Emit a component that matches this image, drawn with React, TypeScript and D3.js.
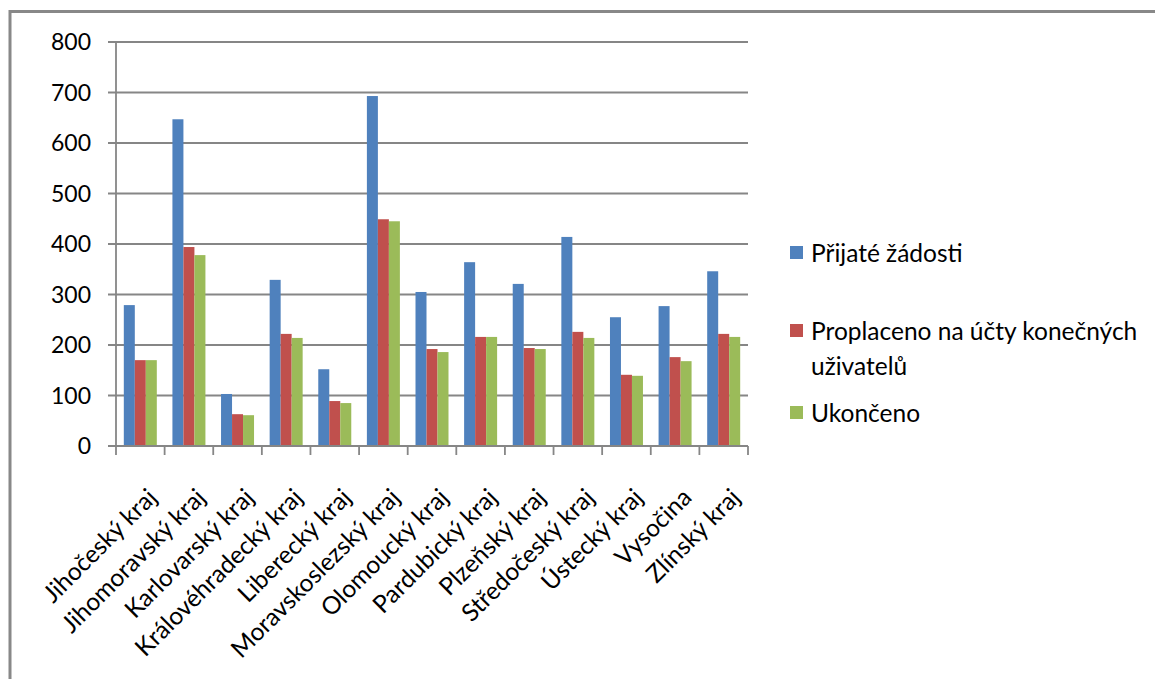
import { useMemo } from "react";
import * as d3 from "d3";

// Bar chart of regional counts: received / paid / closed requests per kraj.

const REGIONS = [
  "Jihočeský kraj",
  "Jihomoravský kraj",
  "Karlovarský kraj",
  "Královéhradecký kraj",
  "Liberecký kraj",
  "Moravskoslezský kraj",
  "Olomoucký kraj",
  "Pardubický kraj",
  "Plzeňský kraj",
  "Středočeský kraj",
  "Ústecký kraj",
  "Vysočina",
  "Zlínský kraj",
];

const PRIJATE = [279, 647, 103, 329, 152, 693, 305, 364, 321, 414, 255, 277, 346];
const PROPLACENO = [170, 394, 63, 222, 89, 449, 192, 216, 194, 226, 141, 176, 222];
const UKONCENO = [170, 378, 61, 214, 85, 445, 186, 216, 192, 214, 139, 168, 216];

const SERIES = [
  { name: "Přijaté žádosti", values: PRIJATE, color: "#4F81BD" },
  { name: "Proplaceno na účty konečných uživatelů", values: PROPLACENO, color: "#C0504D" },
  { name: "Ukončeno", values: UKONCENO, color: "#9BBB59" },
];

const Y_TICKS = [0, 100, 200, 300, 400, 500, 600, 700, 800];

const W = 1155;
const H = 679;
const FONT = "Lato, 'Open Sans', sans-serif";
const GRID = "#868686";

export default function App() {
  const x0 = 116;
  const x1 = 748;
  const yTop = 42;
  const yBot = 446;

  const x = useMemo(() => d3.scaleBand<string>().domain(REGIONS).range([x0, x1]).padding(0), []);
  const inner = useMemo(
    () =>
      d3
        .scaleBand<string>()
        .domain(SERIES.map((s) => s.name))
        .range([0, x.bandwidth()])
        .paddingInner(0)
        .paddingOuter(0.71),
    [x]
  );
  const y = useMemo(() => d3.scaleLinear().domain([0, 800]).range([yBot, yTop]), []);

  const boundaries = [...REGIONS.map((r) => x(r)!), x1];

  return (
    <svg
      width={W}
      height={H}
      viewBox={`0 0 ${W} ${H}`}
      style={{ position: "absolute", left: 0, top: 0, background: "#fff" }}
    >
      {/* outer chart frame, cut off at the right and bottom like the original */}
      <rect x={10} y={11.5} width={W + 20} height={H + 20} fill="#fff" stroke="#888" strokeWidth={3} />

      {/* gridlines + y labels */}
      {Y_TICKS.map((t) => (
        <g key={t}>
          <line x1={108} x2={x1} y1={y(t)} y2={y(t)} stroke={GRID} strokeWidth={1.8} />
          <text
            x={91}
            y={y(t)}
            dy="0.36em"
            textAnchor="end"
            fontFamily={FONT}
            fontSize={23}
            fill="#000"
          >
            {t}
          </text>
        </g>
      ))}

      {/* bars */}
      {REGIONS.map((r, i) => (
        <g key={r} transform={`translate(${x(r)},0)`}>
          {SERIES.map((s) => (
            <rect
              key={s.name}
              x={inner(s.name)}
              y={y(s.values[i])}
              width={inner.bandwidth()}
              height={yBot - y(s.values[i])}
              fill={s.color}
            />
          ))}
        </g>
      ))}

      {/* axes */}
      <line x1={x0} x2={x0} y1={yTop} y2={yBot} stroke={GRID} strokeWidth={1.8} />
      <line x1={x0} x2={x1} y1={yBot} y2={yBot} stroke={GRID} strokeWidth={1.8} />
      {boundaries.map((bx, i) => (
        <line key={i} x1={bx} x2={bx} y1={yBot} y2={yBot + 9} stroke={GRID} strokeWidth={1.8} />
      ))}

      {/* rotated category labels */}
      {REGIONS.map((r) => {
        const cx = x(r)! + x.bandwidth() / 2 + 18;
        const cy = 499;
        return (
          <text
            key={r}
            x={cx}
            y={cy}
            textAnchor="end"
            transform={`rotate(-45 ${cx} ${cy})`}
            fontFamily={FONT}
            fontSize={24.5}
            fill="#000"
          >
            {r}
          </text>
        );
      })}

      {/* legend */}
      {[
        { s: SERIES[0], lines: ["Přijaté žádosti"], cy: 253 },
        { s: SERIES[1], lines: ["Proplaceno na účty konečných", "uživatelů"], cy: 331 },
        { s: SERIES[2], lines: ["Ukončeno"], cy: 413 },
      ].map(({ s, lines, cy }) => (
        <g key={s.name}>
          <rect x={790} y={cy - 7} width={13} height={13} fill={s.color} />
          <text fontFamily={FONT} fontSize={24.5} fill="#000">
            {lines.map((l, k) => (
              <tspan key={k} x={811} y={cy + k * 35} dy="0.36em">
                {l}
              </tspan>
            ))}
          </text>
        </g>
      ))}
    </svg>
  );
}
